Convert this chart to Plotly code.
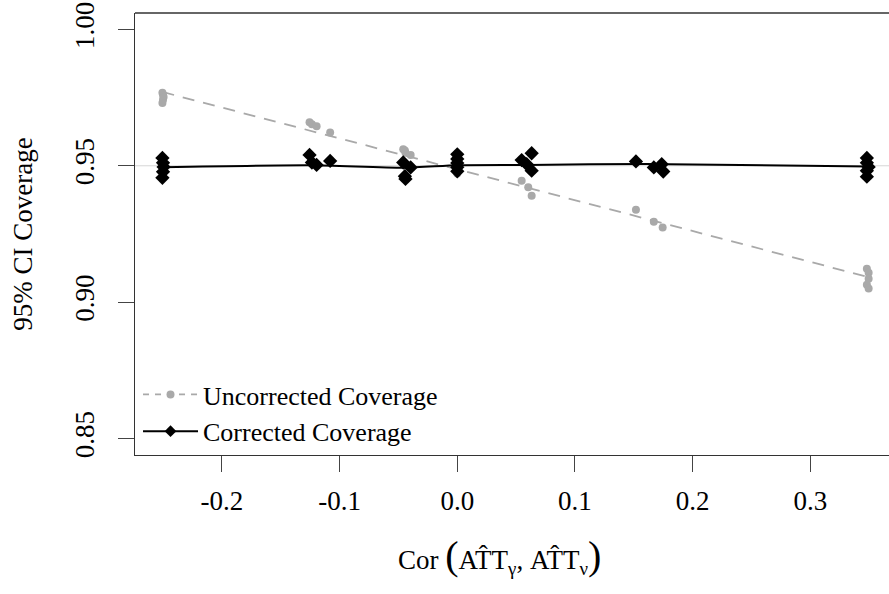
import numpy as np
import plotly.graph_objects as go

# ---- data ----
unc_x = [-0.2505, -0.2500, -0.2495, -0.2500, -0.2505,
         -0.1255, -0.1235, -0.1195, -0.1080,
         -0.0459, -0.0445, -0.0440, -0.0396,
         0.0000, 0.0000, 0.0000, 0.0000,
         0.0547, 0.0603, 0.0632,
         0.1518, 0.1670, 0.1745,
         0.3480, 0.3495, 0.3495, 0.3480, 0.3495]
unc_y = [0.9768, 0.9760, 0.9752, 0.9742, 0.9730,
         0.9660, 0.9652, 0.9645, 0.9622,
         0.9561, 0.9556, 0.9548, 0.9540,
         0.9492, 0.9485, 0.9478, 0.9472,
         0.9445, 0.9421, 0.9390,
         0.9339, 0.9295, 0.9274,
         0.9123, 0.9108, 0.9086, 0.9064, 0.9050]

cor_x = [-0.2505, -0.2500, -0.2495, -0.2500, -0.2505,
         -0.1255, -0.1235, -0.1195, -0.1080,
         -0.0459, -0.0396, -0.0445, -0.0440,
         0.0000, 0.0000, 0.0000, 0.0000, 0.0000,
         0.0547, 0.0632, 0.0590, 0.0632,
         0.1518, 0.1670, 0.1737, 0.1750,
         0.3480, 0.3480, 0.3495, 0.3480, 0.3480]
cor_y = [0.9529, 0.9511, 0.9496, 0.9478, 0.9456,
         0.9540, 0.9512, 0.9503, 0.9518,
         0.9512, 0.9494, 0.9462, 0.9452,
         0.9542, 0.9525, 0.9510, 0.9495, 0.9480,
         0.9521, 0.9546, 0.9506, 0.9482,
         0.9516, 0.9494, 0.9506, 0.9479,
         0.9529, 0.9511, 0.9496, 0.9482, 0.9460]

# smoothed curve of the corrected coverage
smooth_x = [-0.25, -0.125, -0.045, 0.0, 0.06, 0.16, 0.35]
smooth_y = [0.9495, 0.9502, 0.9493, 0.9502, 0.9503, 0.9507, 0.9497]

x_ticks = [-0.2, -0.1, 0.0, 0.1, 0.2, 0.3]
x_ticktext = ["-0.2", "-0.1", "0.0", "0.1", "0.2", "0.3"]
y_ticks = [0.85, 0.90, 0.95, 1.00]
y_ticktext = ["0.85", "0.90", "0.95", "1.00"]

# linear fit for uncorrected coverage
slope, intercept = np.polyfit(unc_x, unc_y, 1)
fit_x = np.array([min(unc_x), max(unc_x)])
fit_y = intercept + slope * fit_x

FONT = "Liberation Serif"
GRAY = "#a9a9a9"

fig = go.Figure()

fig.add_trace(go.Scatter(
    x=fit_x, y=fit_y, mode="lines", name="Uncorrected Coverage",
    line=dict(color=GRAY, width=1.8, dash="12px,9px"), showlegend=False))
fig.add_trace(go.Scatter(
    x=unc_x, y=unc_y, mode="markers", name="Uncorrected Coverage",
    marker=dict(color=GRAY, size=8, symbol="circle"), showlegend=False))
fig.add_trace(go.Scatter(
    x=smooth_x, y=smooth_y, mode="lines", name="Corrected Coverage",
    line=dict(color="black", width=2, shape="spline", smoothing=0.6), showlegend=False))
fig.add_trace(go.Scatter(
    x=cor_x, y=cor_y, mode="markers", name="Corrected Coverage",
    marker=dict(color="black", size=11, symbol="diamond"), showlegend=False))

# legend entries
fig.add_trace(go.Scatter(
    x=[None], y=[None], mode="lines+markers", name="Uncorrected Coverage",
    line=dict(color=GRAY, width=1.8, dash="6px,6px"),
    marker=dict(color=GRAY, size=8, symbol="circle")))
fig.add_trace(go.Scatter(
    x=[None], y=[None], mode="lines+markers", name="Corrected Coverage",
    line=dict(color="black", width=2),
    marker=dict(color="black", size=9, symbol="diamond")))

# reference line at 0.95
fig.add_shape(type="line", xref="paper", x0=0, x1=1, yref="y", y0=0.95, y1=0.95,
              line=dict(color="#d6d6d6", width=1), layer="below")
# top border of box
fig.add_shape(type="line", xref="paper", x0=0, x1=1, yref="paper", y0=1, y1=1,
              line=dict(color="#333333", width=1.3))

fig.update_layout(
    width=889, height=594,
    margin=dict(l=135, r=0, t=13, b=139),
    paper_bgcolor="white", plot_bgcolor="white",
    font=dict(family=FONT, size=27, color="black"),
    showlegend=True,
    legend=dict(x=0.004, y=0.19, xanchor="left", yanchor="top",
                bgcolor="rgba(0,0,0,0)", font=dict(size=26, family=FONT),
                tracegroupgap=0, itemwidth=55),
    xaxis=dict(range=[-0.2738, 0.3668], tickvals=x_ticks, ticktext=x_ticktext,
               showgrid=False, zeroline=False, showline=True, linecolor="#333333",
               linewidth=1.3, ticks="outside", ticklen=16, tickcolor="#444444",
               tickwidth=1, ticklabelstandoff=5,
               tickfont=dict(family=FONT, size=27)),
    yaxis=dict(range=[0.844, 1.006], tickvals=y_ticks, ticktext=y_ticktext,
               showgrid=False, zeroline=False, showline=True, linecolor="#333333",
               linewidth=1.3, ticks="outside", ticklen=16, tickcolor="#444444",
               tickwidth=1, tickangle=-90, ticklabelstandoff=13,
               tickfont=dict(family=FONT, size=27),
               title=dict(text="95% CI Coverage", font=dict(family=FONT, size=27),
                          standoff=29)),
)

fig.add_annotation(
    xref="paper", yref="paper", x=0.484, y=-0.229, xanchor="center", yanchor="middle",
    text="Cor <span style='font-size:40px'>(</span>AT\u0302T<sub>γ</sub>, AT\u0302T<sub>ν</sub><span style='font-size:40px'>)</span>",
    showarrow=False, font=dict(family=FONT, size=27))

fig.write_html("out.html", config={"displayModeBar": False},
               post_script="document.body.style.margin='0';")
